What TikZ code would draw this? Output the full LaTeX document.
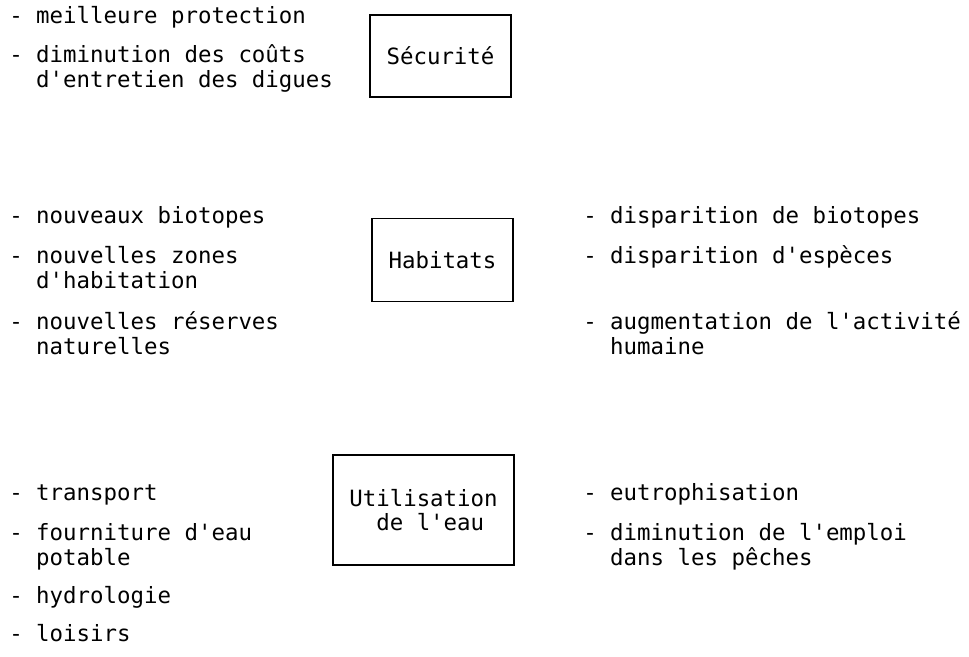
\documentclass[tikz,border=0pt]{standalone}
\usepackage{fontspec}
\setmonofont{DejaVu Sans Mono}
\usepackage{tikz}
\usetikzlibrary{positioning}
\newcommand{\machine}{\ttfamily\fontsize{16.8}{18.75}\selectfont}
\newcommand{\suite}{\hphantom{- }}
\tikzstyle{themebox} = [rectangle, draw=black, line width=1pt, minimum width=105.75pt, minimum height=61.5pt, text centered, inner sep=0pt]
\tikzstyle{puce} = [anchor=mid west, align=left, inner sep=0pt]

\begin{document}
\begin{tikzpicture}[x=0.75pt, y=-0.75pt, font=\machine]
\useasboundingbox (0,0) rectangle (969,656);
% securite (multi-line items sit on their last line)
\node[themebox] (securite) at (440.5,56) {Sécurité};
\node[puce] (s1) at (9,21) {- meilleure protection};
\node[puce] (s2) at (9,85) {- diminution des coûts\\\suite d'entretien des digues};

% habitats
\node[themebox, minimum height=62.25pt] (habitats) at (442.5,260) {Habitats};
\node[puce] (h1) at (9,221) {- nouveaux biotopes};
\node[puce] (h2) at (9,286) {- nouvelles zones\\\suite d'habitation};
\node[puce] (h3) at (9,352) {- nouvelles réserves\\\suite naturelles};
\node[puce] (h4) at (583,221) {- disparition de biotopes};
\node[puce] (h5) at (583,261) {- disparition d'espèces};
\node[puce] (h6) at (583,352) {- augmentation de l'activité\\\suite humaine};

% utilisation de l'eau
\node[themebox, minimum width=135.75pt, minimum height=82.5pt, align=left, font=\ttfamily\fontsize{16.8}{18}\selectfont] (eau) at (423.5,510) {Utilisation\\\suite de l'eau};
\node[puce] (u1) at (9,498) {- transport};
\node[puce] (u2) at (9,563) {- fourniture d'eau\\\suite potable};
\node[puce] (u3) at (9,601) {- hydrologie};
\node[puce] (u4) at (9,639) {- loisirs};
\node[puce] (u5) at (583,498) {- eutrophisation};
\node[puce] (u6) at (583,563) {- diminution de l'emploi\\\suite dans les pêches};
\end{tikzpicture}
\end{document}
